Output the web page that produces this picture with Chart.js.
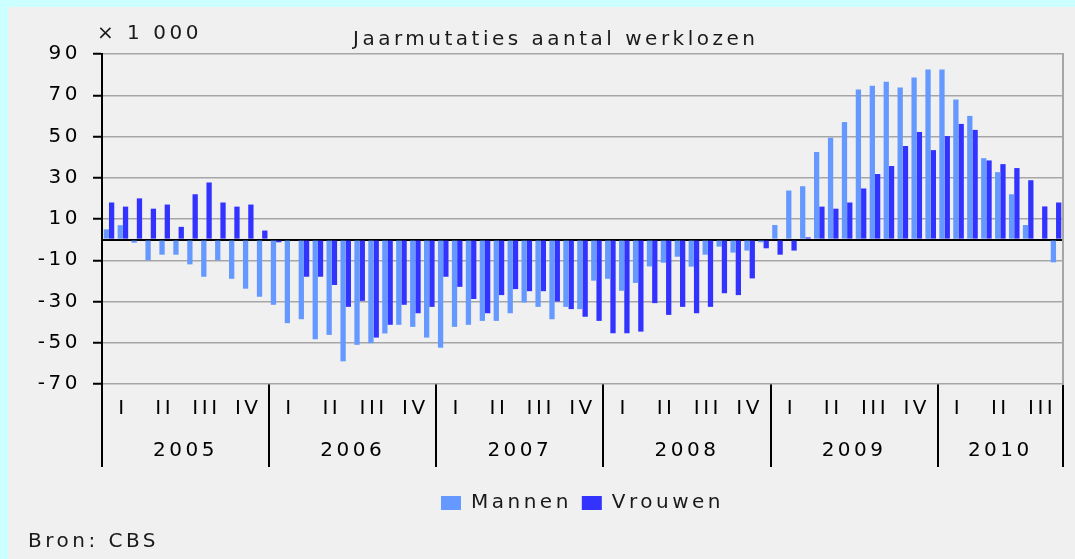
<!DOCTYPE html>
<html>
<head>
<meta charset="utf-8">
<script src="https://cdn.jsdelivr.net/npm/chart.js@4.4.1/dist/chart.umd.min.js"></script>
<style>
    html, body { margin: 0; padding: 0; width: 1075px; height: 559px; overflow: hidden; background: #ccffff; }
    #panel { position: absolute; left: 8px; top: 7px; right: 0; bottom: 0; background: #f0f0f0; }
    #chart { position: absolute; left: 0; top: 0; }
    .txt { position: absolute; font-family: "DejaVu Sans"; font-size: 20px; line-height: 20px; letter-spacing: 3.5px; color: #1a1a1a; white-space: nowrap; }
</style>
</head>
<body>
<div id="panel"></div>
<canvas id="chart" width="1075" height="559"></canvas>
<div class="txt" style="left:97px; top:22px;">× 1 000</div>
<div class="txt" style="left:353px; top:28px;">Jaarmutaties aantal werklozen</div>
<div class="txt" style="left:28px; top:530px;">Bron: CBS</div>

<script>
const maanden = [
    "2005-01", "2005-02", "2005-03", "2005-04", "2005-05", "2005-06", "2005-07", "2005-08", "2005-09", "2005-10", "2005-11", "2005-12",
    "2006-01", "2006-02", "2006-03", "2006-04", "2006-05", "2006-06", "2006-07", "2006-08", "2006-09", "2006-10", "2006-11", "2006-12",
    "2007-01", "2007-02", "2007-03", "2007-04", "2007-05", "2007-06", "2007-07", "2007-08", "2007-09", "2007-10", "2007-11", "2007-12",
    "2008-01", "2008-02", "2008-03", "2008-04", "2008-05", "2008-06", "2008-07", "2008-08", "2008-09", "2008-10", "2008-11", "2008-12",
    "2009-01", "2009-02", "2009-03", "2009-04", "2009-05", "2009-06", "2009-07", "2009-08", "2009-09", "2009-10", "2009-11", "2009-12",
    "2010-01", "2010-02", "2010-03", "2010-04", "2010-05", "2010-06", "2010-07", "2010-08", "2010-09"
];
const kwartalen = ["I", "II", "III", "IV"];
const jaren = ["2005", "2006", "2007", "2008", "2009", "2010"];

// x 1 000
const mannen = [
    5, 7, -1.5, -10, -7.3, -7.3, -12, -18, -10, -19, -23.8, -27.7,
    -31.6, -40.5, -38.6, -48.3, -46.2, -59, -51, -50.2, -45.5, -41.3, -42.3, -47.5,
    -52.4, -42.3, -41.3, -39.4, -39.4, -35.7, -30.5, -32.6, -38.6, -32.6, -33.7, -19.9,
    -19, -24.8, -21, -13, -11.2, -8.3, -13.1, -7.3, -3.4, -6.3, -5.3, -1.3,
    7.1, 23.8, 25.9, 42.5, 49.4, 57, 72.8, 74.6, 76.5, 73.7, 78.6, 82.5,
    82.5, 67.9, 60, 39.5, 32.7, 22, 7.1, 0, -11
];
const vrouwen = [
    18, 16, 20, 15, 17, 6.2, 22, 27.7, 18, 16, 17, 4.4,
    -1.3, 0, -18, -18, -22, -32.6, -29.7, -47.5, -41.3, -31.6, -35.7, -32.6,
    -18, -22.9, -28.8, -35.7, -26.9, -24, -25, -25, -30, -33.7, -37.4, -39.4,
    -45.4, -45.4, -44.6, -30.8, -36.5, -32.6, -35.7, -32.6, -26, -26.9, -18.8, -4.2,
    -7.3, -5.3, 1.1, 16, 15, 18, 24.8, 31.8, 35.7, 45.4, 52.2, 43.4,
    50.2, 56.1, 53.2, 38.4, 36.6, 34.7, 28.8, 16.1, 18
];

const yMin = -70;
const yMax = 90;
const yStep = 20;

const gridGray = "#a6a6a6";

// midden van elk jaar op de maand-as
const jaarMidden = jaren.map(jaar => {
    const idx = maanden.map((m, i) => m.startsWith(jaar) ? i : -1).filter(i => i >= 0);
    return (idx[0] + idx[idx.length - 1]) / 2;
});

function kwartaalLabel(index) {
    const maand = Number(maanden[index].slice(5));
    return maand % 3 === 2 ? kwartalen[(maand - 2) / 3] : "";
}

// labels onder de as tellen niet mee voor de ruimte links/rechts
function geenZijPadding(scale) {
    scale.paddingLeft = 0;
    scale.paddingRight = 0;
}

const letterSpacing = {
    id: "letterSpacing",
    beforeLayout(chart) { chart.ctx.letterSpacing = "3.5px"; },
    beforeDraw(chart) { chart.ctx.letterSpacing = "3.5px"; }
};

Chart.defaults.font.family = "DejaVu Sans";
Chart.defaults.font.size = 20;
Chart.defaults.color = "#1a1a1a";

new Chart(document.getElementById("chart"), {
    type: "bar",
    data: {
        labels: maanden,
        datasets: [{
            label: "Mannen",
            data: mannen,
            backgroundColor: "#6699ff",
            borderWidth: 0,
            categoryPercentage: 0.76,
            barPercentage: 1
        }, {
            label: "Vrouwen",
            data: vrouwen,
            backgroundColor: "#3333ff",
            borderWidth: 0,
            categoryPercentage: 0.76,
            barPercentage: 1
        }]
    },
    plugins: [letterSpacing],
    options: {
        responsive: false,
        animation: false,
        layout: {
            padding: { left: 22, right: 12, top: 54, bottom: 36 }
        },
        scales: {
            x: {
                type: "category",
                offset: true,
                grid: { display: false, drawTicks: false },
                border: { display: false },
                ticks: { display: false },
                afterFit(scale) { scale.height = 99; }
            },
            xsep: {
                axis: "x",
                type: "category",
                labels: maanden,
                position: { y: yMin },
                offset: true,
                grid: {
                    offset: true,
                    drawOnChartArea: false,
                    tickLength: 83,
                    lineWidth: 2,
                    color: ctx => (ctx.index === undefined || ctx.index % 12 === 0) ? "#000" : "rgba(0,0,0,0)"
                },
                border: { display: false },
                ticks: { display: false },
                afterFit: geenZijPadding
            },
            xq: {
                axis: "x",
                type: "category",
                labels: maanden,
                position: { y: yMin },
                offset: true,
                grid: { display: false, drawTicks: false },
                border: { display: false },
                ticks: {
                    autoSkip: false,
                    maxRotation: 0,
                    padding: 13,
                    color: "#000",
                    callback: (value, index) => kwartaalLabel(index)
                },
                afterFit: geenZijPadding
            },
            xy: {
                axis: "x",
                type: "linear",
                offset: false,
                min: -0.5,
                max: maanden.length - 0.5,
                position: { y: yMin },
                grid: { display: false, drawTicks: false },
                border: { display: false },
                afterBuildTicks(scale) {
                    scale.ticks = jaarMidden.map(v => ({ value: v }));
                },
                ticks: {
                    autoSkip: false,
                    maxRotation: 0,
                    padding: 55,
                    color: "#000",
                    callback: (value, index) => jaren[index]
                },
                afterFit: geenZijPadding
            },
            y: {
                min: yMin,
                max: yMax,
                afterBuildTicks(scale) {
                    scale.ticks.push({ value: 0 });
                    scale.ticks.sort((a, b) => a.value - b.value);
                },
                afterFit(scale) { scale.width = 80; },
                ticks: {
                    stepSize: yStep,
                    padding: 12,
                    color: "#000",
                    callback: value => value === 0 ? "" : value
                },
                grid: {
                    color: ctx => ctx.tick && ctx.tick.value === 0 ? "#000" : gridGray,
                    lineWidth: ctx => ctx.tick && ctx.tick.value === 0 ? 2 : 1.5,
                    tickColor: ctx => ctx.tick && ctx.tick.value === 0 ? "rgba(0,0,0,0)" : "#000",
                    tickLength: 9,
                    tickWidth: 2
                },
                border: { color: "#000", width: 2 }
            },
            yRight: {
                axis: "y",
                position: "right",
                min: yMin,
                max: yMax,
                grid: { drawOnChartArea: false, drawTicks: false },
                ticks: { display: false },
                border: { color: gridGray, width: 2 }
            }
        },
        plugins: {
            legend: {
                position: "bottom",
                fullSize: false,
                labels: {
                    boxWidth: 20,
                    boxHeight: 14,
                    padding: 10,
                    color: "#1a1a1a"
                }
            },
            tooltip: { enabled: false }
        }
    }
});
</script>
</body>
</html>
